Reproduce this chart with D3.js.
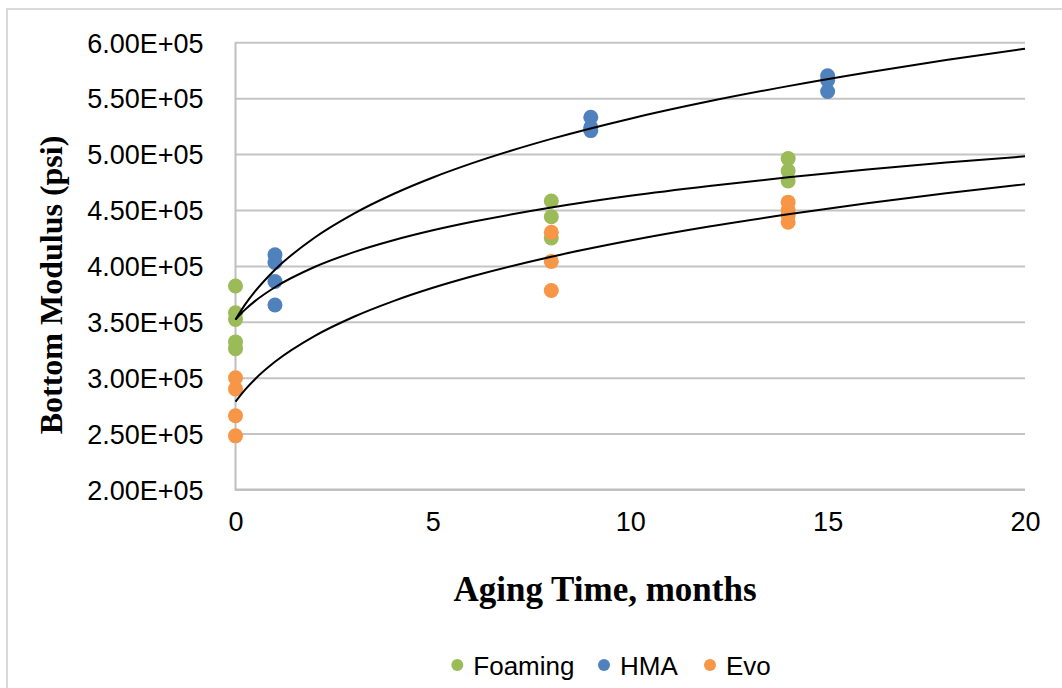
<!DOCTYPE html>
<html>
<head>
<meta charset="utf-8">
<script src="https://cdn.jsdelivr.net/npm/d3@7"></script>
<style>
  html, body { margin: 0; padding: 0; background: #ffffff; }
  svg { display: block; }
</style>
</head>
<body>
<svg id="chart" width="1062" height="688"></svg>
<script>
// Bottom modulus measurements by aging time (months) for each mix
const foamingMonths = [0, 0, 0, 0, 0, 8, 8, 8, 14, 14, 14];
const foamingModulus = [3.82e5, 3.58e5, 3.52e5, 3.32e5, 3.26e5, 4.58e5, 4.44e5, 4.25e5, 4.96e5, 4.85e5, 4.76e5];

const hmaMonths = [1, 1, 1, 1, 9, 9, 9, 15, 15, 15];
const hmaModulus = [4.10e5, 4.03e5, 3.86e5, 3.65e5, 5.33e5, 5.24e5, 5.21e5, 5.70e5, 5.66e5, 5.56e5];

const evoMonths = [0, 0, 0, 0, 8, 8, 8, 14, 14, 14, 14];
const evoModulus = [3.00e5, 2.90e5, 2.66e5, 2.48e5, 4.30e5, 4.04e5, 3.78e5, 4.57e5, 4.50e5, 4.45e5, 4.39e5];

// Trendline samples
const trendMonths = [0, 0.25, 0.5, 1, 2, 3, 4, 5, 6, 8, 10, 12, 14, 16, 18, 20];
const hmaTrend = [3.52e5, 3.658e5, 3.774e5, 3.966e5, 4.252e5, 4.468e5, 4.643e5, 4.791e5, 4.919e5, 5.136e5, 5.317e5, 5.472e5, 5.608e5, 5.730e5, 5.841e5, 5.943e5];
const foamingTrend = [3.52e5, 3.611e5, 3.687e5, 3.809e5, 3.990e5, 4.123e5, 4.229e5, 4.318e5, 4.394e5, 4.522e5, 4.627e5, 4.715e5, 4.793e5, 4.862e5, 4.924e5, 4.980e5];
const evoTrend = [2.785e5, 2.895e5, 2.989e5, 3.142e5, 3.372e5, 3.545e5, 3.685e5, 3.804e5, 3.907e5, 4.082e5, 4.227e5, 4.352e5, 4.461e5, 4.560e5, 4.649e5, 4.730e5];

const xTicks = [0, 5, 10, 15, 20];
const yTicks = [2.0e5, 2.5e5, 3.0e5, 3.5e5, 4.0e5, 4.5e5, 5.0e5, 5.5e5, 6.0e5];

const seriesNames = ["Foaming", "HMA", "Evo"];
const seriesColors = ["#9BBB59", "#4F81BD", "#F79646"];

const series = [
  { name: seriesNames[0], color: seriesColors[0], xs: foamingMonths, ys: foamingModulus, trend: foamingTrend },
  { name: seriesNames[1], color: seriesColors[1], xs: hmaMonths, ys: hmaModulus, trend: hmaTrend },
  { name: seriesNames[2], color: seriesColors[2], xs: evoMonths, ys: evoModulus, trend: evoTrend }
];

const svg = d3.select("#chart");
const plot = { left: 235.5, right: 1025, top: 42.3, bottom: 489.5 };

const x = d3.scaleLinear().domain([0, 20]).range([plot.left, plot.right]);
const y = d3.scaleLinear().domain([2e5, 6e5]).range([plot.bottom, plot.top]);

const tickFont = "'Liberation Sans', Arial, sans-serif";
const titleFont = "'Liberation Serif', 'Times New Roman', serif";

// Outer chart frame
svg.append("rect")
  .attr("x", 7).attr("y", 9)
  .attr("width", 1200).attr("height", 800)
  .attr("fill", "#ffffff")
  .attr("stroke", "#d9d9d9")
  .attr("stroke-width", 2);

// Horizontal gridlines + y labels
const yAxis = d3.axisLeft(y)
  .tickValues(yTicks)
  .tickSize(-(plot.right - plot.left))
  .tickPadding(32)
  .tickFormat(d => (d / 1e5).toFixed(2) + "E+05");

const gy = svg.append("g")
  .attr("transform", `translate(${plot.left},0)`)
  .call(yAxis);
gy.select(".domain").remove();
gy.selectAll(".tick line").attr("stroke", "#c4c4c4").attr("stroke-width", 2);
gy.selectAll(".tick text")
  .attr("font-family", tickFont)
  .attr("font-size", 27)
  .attr("fill", "#000")
  .attr("dy", "0.36em");

// X axis labels
const xAxis = d3.axisBottom(x)
  .tickValues(xTicks)
  .tickSize(0)
  .tickPadding(22)
  .tickFormat(d3.format("d"));

const gx = svg.append("g")
  .attr("transform", `translate(0,${plot.bottom})`)
  .call(xAxis);
gx.select(".domain").remove();
gx.selectAll(".tick text")
  .attr("font-family", tickFont)
  .attr("font-size", 27)
  .attr("fill", "#000");

// Axis lines
svg.append("line")
  .attr("x1", plot.left).attr("x2", plot.left)
  .attr("y1", plot.top).attr("y2", plot.bottom + 1)
  .attr("stroke", "#bfbfbf").attr("stroke-width", 2);
svg.append("line")
  .attr("x1", plot.left).attr("x2", plot.right)
  .attr("y1", plot.bottom).attr("y2", plot.bottom)
  .attr("stroke", "#bfbfbf").attr("stroke-width", 2);

// Scatter markers
series.forEach(s => {
  svg.append("g")
    .selectAll("circle")
    .data(s.xs.map((m, i) => ({ m, v: s.ys[i] })))
    .join("circle")
    .attr("cx", d => x(d.m))
    .attr("cy", d => y(d.v))
    .attr("r", 7.5)
    .attr("fill", s.color);
});

// Trendlines
const trendLine = d3.line()
  .x((d, i) => x(trendMonths[i]))
  .y(d => y(d))
  .curve(d3.curveMonotoneX);

series.forEach(s => {
  svg.append("path")
    .attr("d", trendLine(s.trend))
    .attr("fill", "none")
    .attr("stroke", "#000")
    .attr("stroke-width", 2);
});

// Axis titles
svg.append("text")
  .attr("transform", "translate(62,285) rotate(-90)")
  .attr("text-anchor", "middle")
  .attr("font-family", titleFont)
  .attr("font-weight", "bold")
  .attr("font-size", 32)
  .attr("fill", "#000")
  .text("Bottom Modulus (psi)");

svg.append("text")
  .attr("x", 605).attr("y", 601)
  .attr("text-anchor", "middle")
  .attr("font-family", titleFont)
  .attr("font-weight", "bold")
  .attr("font-size", 35)
  .attr("fill", "#000")
  .text("Aging Time, months");

// Legend
const legendX = [457.3, 604, 710];
const legend = svg.append("g");
series.forEach((s, i) => {
  legend.append("circle")
    .attr("cx", legendX[i]).attr("cy", 665)
    .attr("r", 6)
    .attr("fill", s.color);
  legend.append("text")
    .attr("x", legendX[i] + 16).attr("y", 674.5)
    .attr("font-family", tickFont)
    .attr("font-size", 26)
    .attr("fill", "#000")
    .text(s.name);
});
</script>
</body>
</html>
